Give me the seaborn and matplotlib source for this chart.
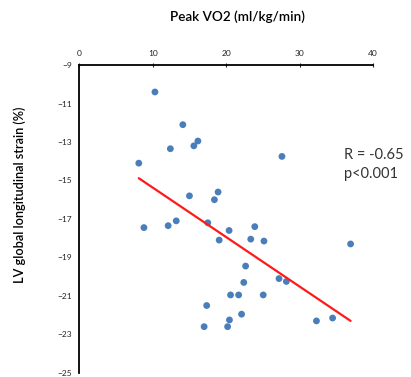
import matplotlib
matplotlib.use("Agg")
import matplotlib.pyplot as plt
import seaborn as sns
import pandas as pd

# Peak VO2 (x) vs LV global longitudinal strain (y)
peak_vo2 = [10.3, 14.1, 12.4, 15.6, 16.15, 8.1, 15.0, 18.9, 18.4, 27.6,
            8.8, 12.1, 13.2, 17.5, 20.4, 19.05, 23.9, 23.35, 25.15, 36.95,
            22.65, 22.4, 27.2, 28.2, 20.6, 21.7, 25.05, 17.35, 22.1, 17.0,
            20.2, 20.45, 32.3, 34.5]
lv_gls = [-10.4, -12.1, -13.35, -13.2, -12.95, -14.1, -15.8, -15.6, -16.0, -13.75,
          -17.45, -17.35, -17.1, -17.2, -17.6, -18.1, -17.4, -18.05, -18.15, -18.3,
          -19.45, -20.3, -20.1, -20.25, -20.95, -20.95, -20.95, -21.5, -21.95, -22.6,
          -22.6, -22.25, -22.3, -22.15]
x_ticks = [0, 10, 20, 30, 40]
y_ticks = [-9, -11, -13, -15, -17, -19, -21, -23, -25]
stats_text = "R = -0.65\np<0.001"

df = pd.DataFrame({"vo2": peak_vo2, "gls": lv_gls})

sns.set_style("white")
plt.rcParams['font.family'] = ['Lato', 'DejaVu Sans']

fig = plt.figure(figsize=(4.11, 3.77), dpi=100)
ax = fig.add_axes([0.193, 0.011, 0.7145, 0.8165])

sns.regplot(data=df, x="vo2", y="gls", ci=None, ax=ax,
            scatter_kws=dict(s=24, color="#4a7ebb", edgecolor="none", alpha=1),
            line_kws=dict(color="#ff1a1a", lw=1.6))

ax.set_xlim(0, 40)
ax.set_ylim(-25, -9)
ax.set_xticks(x_ticks)
ax.set_yticks(y_ticks)
ax.xaxis.tick_top()
ax.xaxis.set_label_position("top")
for s in ["right", "bottom"]:
    ax.spines[s].set_visible(False)
for s in ["left", "top"]:
    ax.spines[s].set_color("black")
    ax.spines[s].set_linewidth(1.3)
ax.tick_params(axis="both", direction="inout", length=3, width=0.8,
               labelsize=6, labelcolor="#222222", pad=4)

ax.set_xlabel("Peak VO2 (ml/kg/min)", fontsize=9.7, color="black", fontweight="semibold")
ax.xaxis.set_label_coords(0.537, 1.143)
ax.set_ylabel("LV global longitudinal strain (%)", fontsize=9.2, color="black",
              fontweight="semibold")
ax.yaxis.set_label_coords(-0.183, 0.58)

ax.text(36.0, -14.17, stats_text, fontsize=10.5, color="#333333",
        va="center", ha="left", linespacing=1.4)

fig.savefig("out.png", dpi=100)
plt.close()
